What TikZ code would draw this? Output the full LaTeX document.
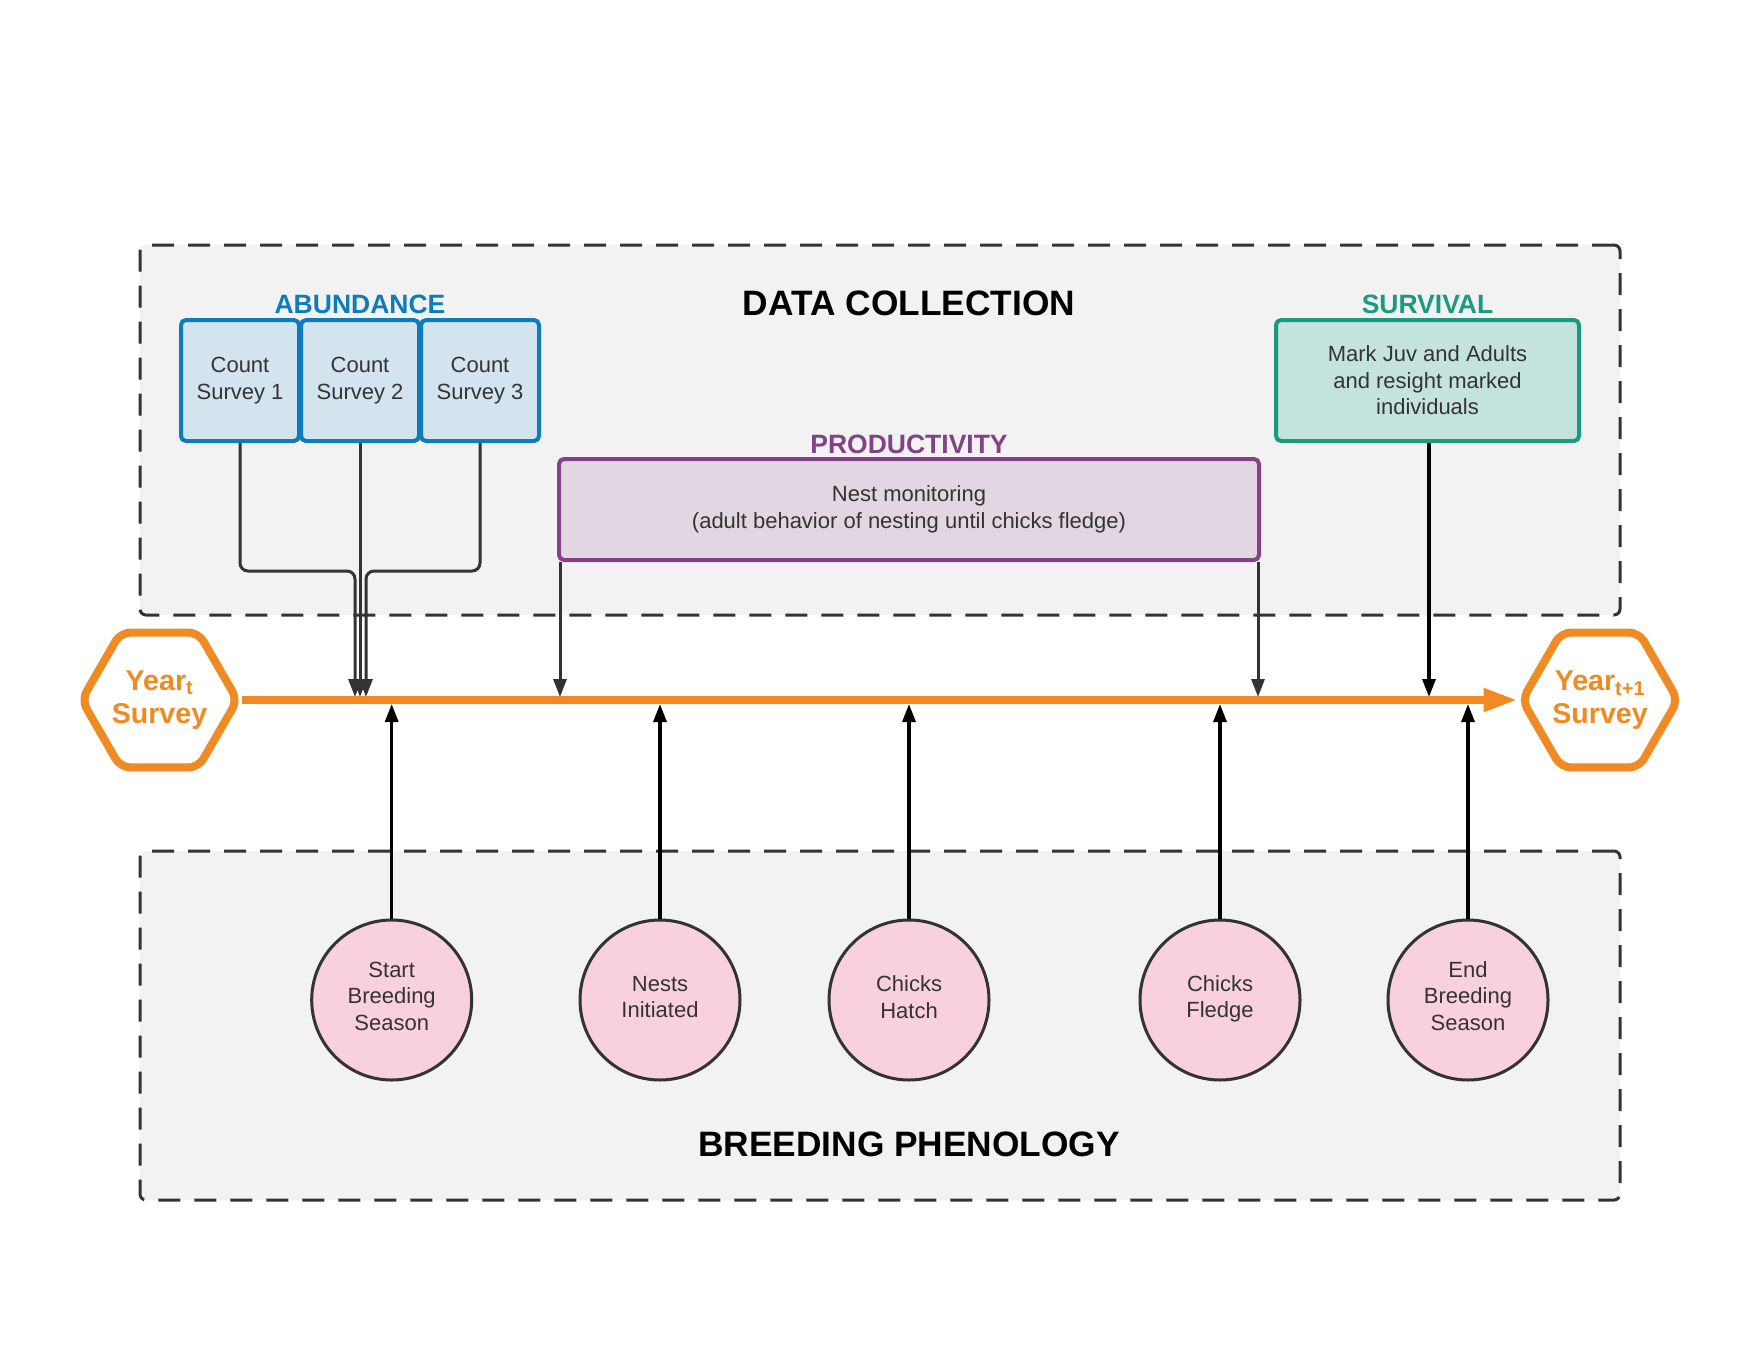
\documentclass[tikz,border=0pt]{standalone}
\usepackage{fontspec}
\setmainfont{Liberation Sans}
\usetikzlibrary{shapes.geometric,arrows.meta}
\definecolor{dgray}{HTML}{333333}
\definecolor{panel}{HTML}{F2F2F2}
\definecolor{abBlue}{HTML}{0E7BBB}
\definecolor{abFill}{HTML}{D3E4EF}
\definecolor{prPurple}{HTML}{834187}
\definecolor{prFill}{HTML}{E1D6E2}
\definecolor{svTeal}{HTML}{1B9A80}
\definecolor{svFill}{HTML}{C4E3DD}
\definecolor{tlOrange}{HTML}{EF8B22}
\definecolor{pinkFill}{HTML}{F9D1DC}
\begin{document}
\begin{tikzpicture}[x=1pt,y=-1pt,
  frame/.style={draw=dgray,fill=panel,line width=3pt,dash pattern=on 22pt off 14pt,rounded corners=6pt,inner sep=0pt},
  body/.style={font=\fontsize{22}{26.5}\selectfont,text=dgray,align=center},
  countbox/.style={body,draw=abBlue,fill=abFill,line width=4pt,rounded corners=5pt,minimum width=118pt,minimum height=121pt,inner sep=0pt},
  title/.style={font=\fontsize{35.3}{40}\selectfont\bfseries,text=black},
  label/.style={font=\fontsize{26.5}{30}\selectfont\bfseries},
  hex/.style={regular polygon,regular polygon sides=6,minimum size=155pt,inner sep=0pt,draw=tlOrange,line width=8pt,rounded corners=10pt,fill=white,text=tlOrange,font=\fontsize{28.6}{33.5}\selectfont\bfseries,align=center},
  event/.style={circle,draw=dgray,line width=3pt,fill=pinkFill,minimum size=160pt,inner sep=0pt},
  conn/.style={draw=dgray,line width=3pt,-{Triangle[length=18pt,width=13pt]}},
  upconn/.style={draw=black,line width=3.3pt,-{Triangle[length=18pt,width=13pt]}}
]
\fill[white] (0,0) rectangle (1760,1360);
\useasboundingbox (0,0) rectangle (1760,1360);

% panels
\node[frame,minimum width=1480pt,minimum height=370pt] (top) at (880,430) {};
\node[frame,minimum width=1480pt,minimum height=349pt] (bottom) at (880,1025.5) {};

\node[title] (dctitle) at (909,303) {DATA COLLECTION};
\node[title] (bptitle) at (909,1144) {BREEDING PHENOLOGY};

% abundance
\node[label,text=abBlue] (ablabel) at (360,304) {ABUNDANCE};
\node[countbox] (c1) at (240,380.5) {Count\\Survey 1};
\node[countbox] (c3) at (480,380.5) {Count\\Survey 3};
\node[countbox] (c2) at (360,380.5) {Count\\Survey 2};

% productivity
\node[label,text=prPurple] (prlabel) at (909,444.5) {PRODUCTIVITY};
\node[body,draw=prPurple,fill=prFill,line width=4pt,rounded corners=5pt,minimum width=700pt,minimum height=101pt,inner sep=0pt] (pr) at (909,509.5) {Nest monitoring\\(adult behavior of nesting until chicks fledge)};

% survival
\node[label,text=svTeal] (svlabel) at (1427.5,304) {SURVIVAL};
\node[body,draw=svTeal,fill=svFill,line width=4pt,rounded corners=5pt,minimum width=303pt,minimum height=121pt,inner sep=0pt] (sv) at (1427.5,380.5) {Mark Juv and Adults\\and resight marked\\individuals};

% timeline
\node[hex] (hexL) at (159.5,700) {Year\textsubscript{t}\\Survey};
\node[hex] (hexR) at (1600,700) {Year\textsubscript{t+1}\\Survey};
\draw[tlOrange,line width=8pt,-{Triangle[length=34pt,width=22pt]}] (hexL.east) -- (hexR.west);

\coordinate (tlt) at (0,697);
\coordinate (tlb) at (0,704);
\coordinate (j1) at (355,571);
\coordinate (j3) at (366,571);

% abundance connectors
\draw[conn,rounded corners=8pt] (c1.south) |- (j1) -- (j1 |- tlt);
\draw[conn,rounded corners=8pt] (c3.south) |- (j3) -- (j3 |- tlt);
\draw[conn] (c2.south) -- (c2.south |- tlt);

% productivity connectors
\draw[conn] ([xshift=3pt]pr.south west) -- ([xshift=3pt]pr.south west |- tlt);
\draw[conn] ([xshift=-3pt]pr.south east) -- ([xshift=-3pt]pr.south east |- tlt);

% survival connector
\draw[upconn] ([xshift=1.5pt]sv.south) -- ([xshift=1.5pt]sv.south |- tlt);

% phenology events
\node[event] (e1) at (391.7,1000) {};
\node[event] (e2) at (660,1000) {};
\node[event] (e3) at (909,1000) {};
\node[event] (e4) at (1220,1000) {};
\node[event] (e5) at (1468,1000) {};
\node[body] (e1t) at ([yshift=4pt]e1.center) {Start\\Breeding\\Season};
\node[body] (e2t) at ([yshift=3pt]e2.center) {Nests\\Initiated};
\node[body] (e3t) at ([yshift=3pt]e3.center) {Chicks\\Hatch};
\node[body] (e4t) at ([yshift=1pt]e4.center) {Chicks\\Fledge};
\node[body] (e5t) at ([yshift=4pt]e5.center) {End\\Breeding\\Season};

\foreach \e in {e1,e2,e3,e4,e5}
  \draw[upconn] (\e.north) -- (\e.north |- tlb);
\end{tikzpicture}
\end{document}
